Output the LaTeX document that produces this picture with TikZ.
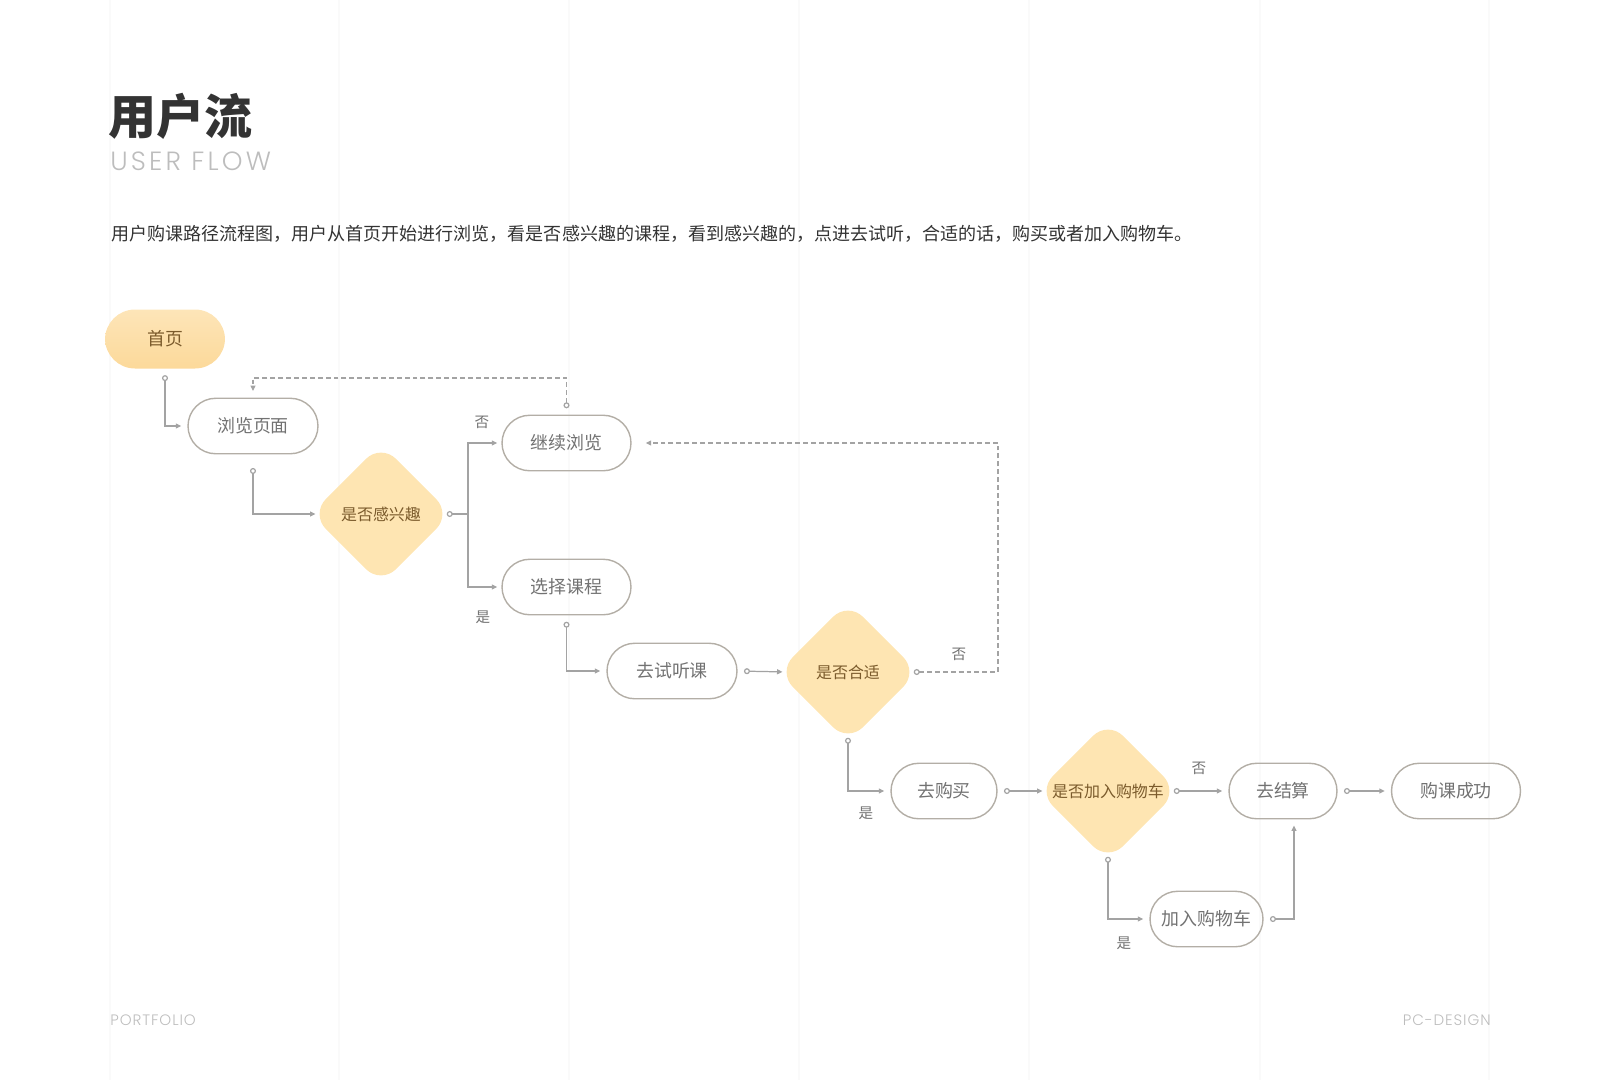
\documentclass[tikz,border=0pt]{standalone}
\usepackage{fontspec}
\setmainfont{Noto Sans CJK SC}
\newfontfamily\thinfont{Poppins Light}
\usetikzlibrary{shapes.geometric,arrows.meta}
\definecolor{lineg}{HTML}{A3A3A3}
\definecolor{boxg}{HTML}{B3AEA6}
\definecolor{textg}{HTML}{727272}
\definecolor{darkg}{HTML}{333333}
\definecolor{paleg}{HTML}{BDBDBD}
\definecolor{gridg}{HTML}{FAFAFA}
\definecolor{choicetext}{HTML}{7B5B2C}
\definecolor{choicefill}{HTML}{FEE5B2}
\definecolor{startfill}{HTML}{FCD99A}
\definecolor{starttop}{HTML}{FDE5B8}

\begin{document}
\begin{tikzpicture}[x=0.02cm,y=-0.02cm,
  gridline/.style={draw=gridg, line width=0.6pt},
  pill/.style={draw=boxg, line width=0.8pt, rounded corners=0.555cm,
    minimum width=2.6cm, minimum height=1.11cm, inner sep=0pt,
    text=textg, font=\fontsize{10.2}{12}\selectfont},
  short/.style={pill, minimum width=2.14cm},
  start/.style={rounded corners=0.6cm, minimum width=2.4cm, minimum height=1.18cm,
    top color=starttop, bottom color=startfill, inner sep=0pt,
    text=choicetext, font=\fontsize{10.2}{12}\selectfont},
  choice/.style={diamond, aspect=1, fill=choicefill, minimum width=2.68cm,
    minimum height=2.68cm, inner sep=0pt, outer sep=-0.15cm, rounded corners=0.42cm,
    text=choicetext, font=\fontsize{9.1}{11}\selectfont},
  answer/.style={text=textg, inner sep=0pt, font=\fontsize{8.3}{10}\selectfont},
  link/.style={draw=lineg, line width=0.7pt},
  from/.style={link, {Circle[open,length=0.12cm]}-, shorten <=0.125cm},
  flow/.style={link, {Circle[open,length=0.12cm]}-{Triangle[length=0.11cm,width=0.1cm]},
    shorten <=0.125cm, shorten >=0.12cm},
  into/.style={link, -{Triangle[length=0.11cm,width=0.1cm]}, shorten >=0.08cm},
  back/.style={dash pattern=on 2.8pt off 1.7pt}]

\useasboundingbox (0,0) rectangle (1600,1080);
\foreach \gx in {110,339,569,799,1029,1260,1489}
  \draw[gridline] (\gx,0) -- (\gx,1080);

% header
\node[anchor=west, inner sep=0pt, text=darkg, font=\fontsize{27.3}{30}\selectfont\bfseries]
  (title) at (108,116) {用户流};
\node[anchor=west, inner sep=0pt, text=paleg, font=\thinfont\fontsize{15}{17}\selectfont]
  (subtitle) at (110,161.5) {\addfontfeatures{LetterSpace=12}USER FLOW};
\node[anchor=west, inner sep=0pt, text=darkg, font=\fontsize{10.26}{12}\selectfont]
  (intro) at (111,234) {用户购课路径流程图，用户从首页开始进行浏览，看是否感兴趣的课程，看到感兴趣的，点进去试听，合适的话，购买或者加入购物车。};

% nodes
\node[start] (home) at (165,339) {首页};
\node[pill] (browse) at (253,426) {浏览页面};
\node[choice] (interest) at (381,514) {是否感兴趣};
\node[pill, minimum width=2.58cm] (more) at (566.5,443) {继续浏览};
\node[pill, minimum width=2.58cm] (pick) at (566.5,587) {选择课程};
\node[pill] (trial) at (672,671) {去试听课};
\node[choice] (fit) at (848,672) {是否合适};
\node[short, minimum width=2.12cm] (buy) at (944,791) {去购买};
\node[choice] (addq) at (1108,791) {是否加入购物车};
\node[short, minimum width=2.16cm] (checkout) at (1283,791) {去结算};
\node[pill, minimum width=2.58cm] (done) at (1456,791) {购课成功};
\node[pill, minimum width=2.26cm] (cart) at (1206.5,919) {加入购物车};

\coordinate (fork) at (468,514);
\coordinate (loop) at (253,378);
\coordinate (retry) at (998,443);

% connectors
\draw[flow] (home.south) |- (browse.west);
\draw[flow, shorten <=0.27cm] (browse.south) |- (interest.west);
\draw[from] (interest.east) -- (fork);
\draw[into] (fork) |- (more.west);
\draw[into] (fork) |- (pick.west);
\draw[flow, back, shorten >=0.13cm] (more.north) |- (loop) -- (browse.north);
\draw[flow] (pick.south) |- (trial.west);
\draw[flow] (trial.east) -- (fit.west);
\draw[flow, back, shorten >=0.28cm] (fit.east) -| (retry) -- (more.east);
\draw[flow] (fit.south) |- (buy.west);
\draw[flow] (buy.east) -- (addq.west);
\draw[flow] (addq.east) -- (checkout.west);
\draw[flow] (addq.south) |- (cart.west);
\draw[flow] (cart.east) -| ([xshift=0.22cm]checkout.south);
\draw[flow] (checkout.east) -- (done.west);

\node[answer] (no1) at (482,422) {否};
\node[answer] (yes1) at (483,617) {是};
\node[answer] (no2) at (959,654) {否};
\node[answer] (yes2) at (866,813) {是};
\node[answer] (no3) at (1199,768) {否};
\node[answer] (yes3) at (1124,943) {是};

% footer
\node[anchor=west, inner sep=0pt, text=paleg, font=\thinfont\fontsize{8.6}{10}\selectfont]
  (left) at (110,1020) {\addfontfeatures{LetterSpace=6}PORTFOLIO};
\node[anchor=east, inner sep=0pt, text=paleg, font=\thinfont\fontsize{8.6}{10}\selectfont]
  (right) at (1491,1020) {\addfontfeatures{LetterSpace=6}PC-DESIGN};
\end{tikzpicture}
\end{document}
